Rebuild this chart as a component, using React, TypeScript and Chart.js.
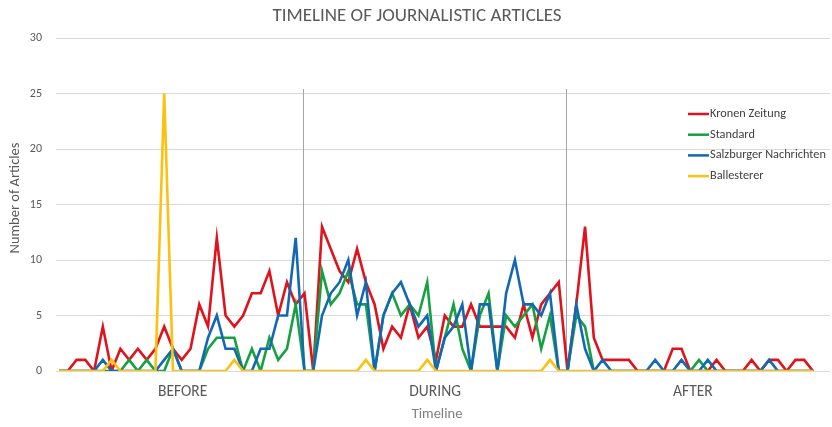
import { useEffect, useRef } from 'react';
import { Chart, registerables } from 'chart.js';

Chart.register(...registerables);

// Articles per period slot (87 slots: 28 before, 30 during, 29 after)
const kronenZeitung = [
  0, 0, 1, 1, 0, 4, 0, 2, 1, 2, 1, 2, 4, 2, 1, 2, 6, 4, 12, 5, 4, 5, 7, 7, 9, 5, 8, 6,
  7, 0, 13, 11, 9, 8, 11, 8, 6, 2, 4, 3, 6, 3, 4, 1, 5, 4, 4, 6, 4, 4, 4, 4, 3, 6, 3, 6, 7, 8,
  0, 6, 13, 3, 1, 1, 1, 1, 0, 0, 0, 0, 2, 2, 0, 0, 0, 1, 0, 0, 0, 1, 0, 1, 1, 0, 1, 1, 0,
];
const standard = [
  0, 0, 0, 0, 0, 0, 0, 0, 1, 0, 1, 0, 0, 2, 0, 0, 0, 2, 3, 3, 3, 0, 2, 0, 3, 1, 2, 6,
  0, 0, 9, 6, 7, 9, 6, 6, 0, 5, 7, 5, 6, 5, 8, 0, 3, 6, 2, 0, 5, 7, 0, 5, 4, 5, 6, 2, 5, 0,
  0, 5, 4, 0, 0, 0, 0, 0, 0, 0, 0, 0, 0, 0, 0, 1, 0, 0, 0, 0, 0, 0, 0, 0, 0, 0, 0, 0, 0,
];
const salzburgerNachrichten = [
  0, 0, 0, 0, 0, 1, 0, 0, 0, 0, 0, 0, 1, 2, 0, 0, 0, 3, 5, 2, 2, 0, 0, 2, 2, 5, 5, 12,
  0, 0, 5, 7, 8, 10, 5, 8, 0, 5, 7, 8, 6, 4, 5, 0, 3, 4, 6, 0, 6, 6, 0, 7, 10, 6, 6, 5, 7, 0,
  0, 6, 2, 0, 1, 0, 0, 0, 0, 0, 1, 0, 0, 1, 0, 0, 1, 0, 0, 0, 0, 0, 0, 1, 0, 0, 0, 0, 0,
];
const ballesterer = [
  0, 0, 0, 0, 0, 0, 1, 0, 0, 0, 0, 0, 25, 0, 0, 0, 0, 0, 0, 0, 1, 0, 0, 0, 0, 0, 0, 0,
  0, 0, 0, 0, 0, 0, 0, 1, 0, 0, 0, 0, 0, 0, 1, 0, 0, 0, 0, 0, 0, 0, 0, 0, 0, 0, 0, 0, 1, 0,
  0, 0, 0, 0, 0, 0, 0, 0, 0, 0, 0, 0, 0, 0, 0, 0, 0, 0, 0, 0, 0, 0, 0, 0, 0, 0, 0, 0, 0,
];

const seriesNames = ['Kronen Zeitung', 'Standard', 'Salzburger Nachrichten', 'Ballesterer'];
const seriesColors = ['#e0131c', '#16a040', '#1268b4', '#fdc010'];
const seriesValues = [kronenZeitung, standard, salzburgerNachrichten, ballesterer];

const groupLabels = ['BEFORE', 'DURING', 'AFTER'];
const yTicks = [0, 5, 10, 15, 20, 25, 30];

const chartTitle = 'TIMELINE OF JOURNALISTIC ARTICLES';
const yTitle = 'Number of Articles';
const xTitle = 'Timeline';

// layout settings (in slot / value units)
const groupCenters = [14.1, 42.9, 72.3];
const separatorSlots = [27.87, 57.85];
const separatorTop = 25.4;

const FONT = "Carlito, 'Liberation Sans Narrow', 'Open Sans', sans-serif";

const decorations = {
  id: 'decorations',
  beforeDatasetsDraw(chart: any) {
    const { ctx, scales } = chart;
    const x = scales.x;
    const y = scales.y;
    ctx.save();
    ctx.strokeStyle = '#a6a6a6';
    ctx.lineWidth = 1;
    separatorSlots.forEach((s) => {
      const px = Math.round(x.getPixelForValue(s)) + 0.5;
      ctx.beginPath();
      ctx.moveTo(px, y.getPixelForValue(separatorTop));
      ctx.lineTo(px, y.getPixelForValue(0));
      ctx.stroke();
    });
    ctx.restore();
  },
  afterDraw(chart: any) {
    const { ctx, scales, chartArea } = chart;
    const x = scales.x;
    ctx.save();
    ctx.textBaseline = 'middle';

    // title
    ctx.fillStyle = '#595959';
    ctx.textAlign = 'center';
    ctx.font = `19px ${FONT}`;
    ctx.fillText(chartTitle, 417, 16);

    // y axis title
    ctx.save();
    ctx.translate(15, 198);
    ctx.rotate(-Math.PI / 2);
    ctx.font = `14.5px ${FONT}`;
    ctx.fillStyle = '#595959';
    ctx.fillText(yTitle, 0, 0);
    ctx.restore();

    // group labels
    ctx.font = `15.5px ${FONT}`;
    ctx.fillStyle = '#595959';
    groupLabels.forEach((g, i) => {
      ctx.fillText(g, x.getPixelForValue(groupCenters[i]), chartArea.bottom + 21);
    });

    // x axis title
    ctx.font = `14.5px ${FONT}`;
    ctx.fillStyle = '#7f7f7f';
    ctx.fillText(xTitle, 437, chartArea.bottom + 43);

    // legend
    ctx.textAlign = 'left';
    ctx.font = `12.3px ${FONT}`;
    seriesNames.forEach((name, i) => {
      const ly = 114 + i * 20.7;
      ctx.strokeStyle = seriesColors[i];
      ctx.lineWidth = 2.5;
      ctx.beginPath();
      ctx.moveTo(688, ly);
      ctx.lineTo(709, ly);
      ctx.stroke();
      ctx.fillStyle = '#404040';
      ctx.fillText(name, 710, ly);
    });
    ctx.restore();
  },
};

export default function App() {
  const canvasRef = useRef<HTMLCanvasElement | null>(null);

  useEffect(() => {
    document.body.style.margin = '0';
    const canvas = canvasRef.current;
    if (!canvas) return;
    const chart = new Chart(canvas, {
      type: 'line',
      data: {
        datasets: seriesValues.map((vals, i) => ({
          label: seriesNames[i],
          data: vals.map((v, idx) => ({ x: idx, y: v })),
          borderColor: seriesColors[i],
          backgroundColor: seriesColors[i],
          borderWidth: 2.6,
          pointRadius: 0,
          tension: 0,
          order: seriesNames.length - i,
        })),
      },
      options: {
        responsive: false,
        animation: false,
        devicePixelRatio: 1,
        layout: { padding: { top: 38, right: 2, left: 0, bottom: 0 } },
        plugins: {
          legend: { display: false },
          title: { display: false },
          tooltip: { enabled: false },
        },
        scales: {
          x: {
            type: 'linear',
            min: -0.342,
            max: 87.94,
            ticks: { display: false },
            grid: { display: false },
            border: { display: false },
            afterFit: (s: any) => {
              s.height = 56;
            },
          },
          y: {
            min: 0,
            max: 30,
            afterBuildTicks: (s: any) => {
              s.ticks = yTicks.map((v) => ({ value: v }));
            },
            ticks: {
              color: '#595959',
              font: { family: FONT, size: 12 },
              padding: 14,
            },
            grid: { color: '#d9d9d9', drawTicks: false, lineWidth: 1 },
            border: { display: false },
            afterFit: (s: any) => {
              s.width = 56;
            },
          },
        },
      },
      plugins: [decorations],
    });
    return () => chart.destroy();
  }, []);

  return <canvas ref={canvasRef} width={832} height={427} style={{ display: 'block' }} />;
}
